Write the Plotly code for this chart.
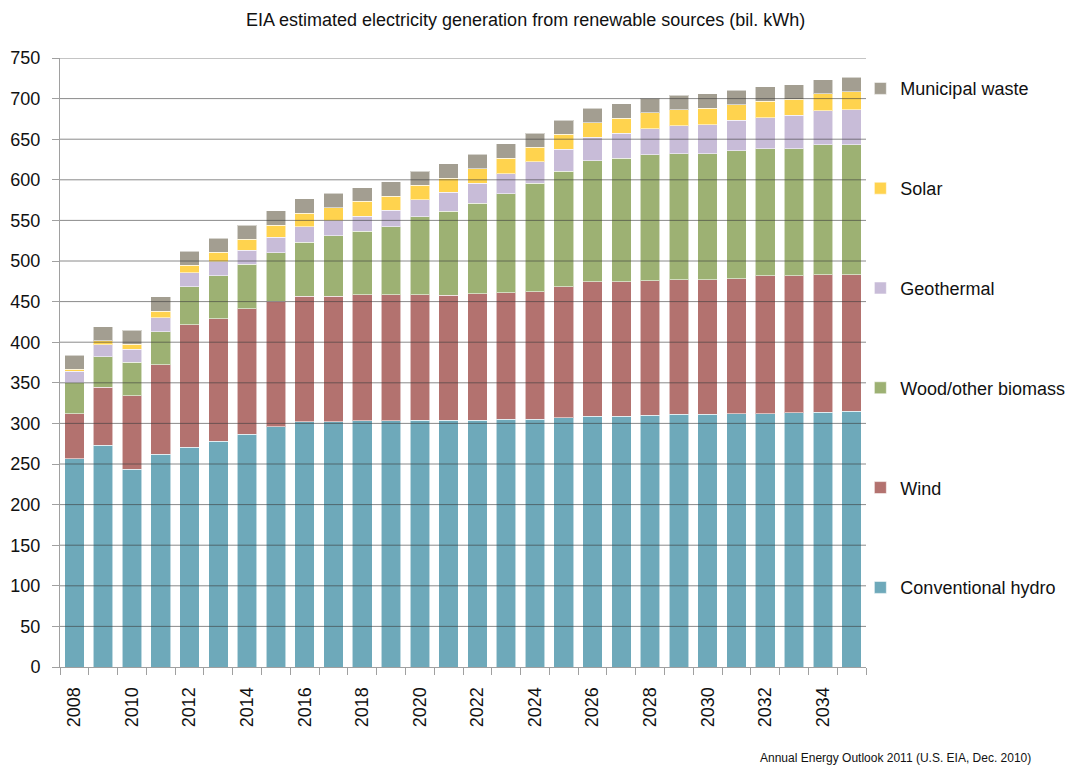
import plotly.graph_objects as go

years = list(range(2008, 2036))

hydro = [256.2, 273.4, 243.5, 262.3, 270.9, 278.3, 286.9, 295.6, 302, 302,
         303, 303, 304, 304, 304, 305, 305, 307, 309, 309,
         310, 311, 311, 312, 312, 313, 314, 315]
wind = [55.4, 71.4, 90.6, 110.0, 150.7, 150.6, 154.0, 154.9, 154.9, 154.9,
        155.5, 155.5, 154.5, 154.1, 155.7, 156.0, 157.2, 161.3, 165.5, 165.5,
        165.7, 166.0, 166.0, 166.2, 169.9, 168.9, 169.1, 168.1]
biomass = [38.5, 37.3, 41.1, 40.6, 46.7, 53.0, 55.0, 59.7, 66.5, 73.9,
           78.1, 83.7, 95.7, 103.1, 111.7, 121.9, 133.8, 142.5, 149.0, 152.3,
           155.3, 155.1, 155.1, 157.6, 156.4, 156.4, 159.8, 159.8]
geothermal = [14.4, 14.8, 16.1, 17.3, 17.3, 17.2, 17.6, 19.0, 18.8, 18.5,
              18.8, 20.6, 21.3, 23.4, 24.6, 24.6, 26.3, 27.1, 29.2, 30.5,
              32.0, 34.2, 35.4, 37.5, 38.2, 41.1, 42.2, 43.4]
solar = [2.5, 4.6, 6.1, 8.2, 8.9, 11.6, 13.2, 15.1, 16.5, 16.3,
         17.9, 17.2, 18.1, 17.6, 17.7, 19.3, 17.7, 18.1, 17.6, 18.8,
         19.3, 20.1, 20.5, 19.2, 20.1, 20.1, 20.6, 22.2]
waste = [17.2, 17.6, 17.6, 17.3, 17.8, 17.6, 17.3, 17.3, 17.7, 17.8,
         17.0, 17.3, 17.2, 17.3, 17.7, 17.3, 17.6, 17.6, 17.7, 17.8,
         18.1, 18.0, 17.7, 17.7, 17.7, 17.6, 17.3, 18.1]

series = [
    ("Conventional hydro", hydro, "#6ea9ba"),
    ("Wind", wind, "#b3726f"),
    ("Wood/other biomass", biomass, "#9db173"),
    ("Geothermal", geothermal, "#c8bcd8"),
    ("Solar", solar, "#ffd34e"),
    ("Municipal waste", waste, "#a39e91"),
]

y_ticks = list(range(0, 751, 50))
x_label_years = [y for y in years if y % 2 == 0]

FONT = "Liberation Sans, Arial, sans-serif"
TXT = "#111111"

fig = go.Figure()
n = len(series)
for i, (name, vals, color) in enumerate(series):
    fig.add_trace(go.Bar(
        x=years, y=vals, name=name, legendgroup=name, legendrank=n - i,
        marker=dict(color=color, line=dict(color="rgba(255,255,255,0.55)", width=1)),
        width=0.68,
    ))

# gridlines drawn above the bars, as in the reference
for v in y_ticks[1:]:
    fig.add_shape(type="line", xref="paper", yref="y", x0=0, x1=1, y0=v, y1=v,
                  line=dict(color="rgba(60,60,60,0.6)", width=1), layer="above")

fig.update_layout(
    barmode="stack",
    width=1071, height=769,
    margin=dict(l=60, r=205, t=58, b=102, autoexpand=False),
    paper_bgcolor="white", plot_bgcolor="white",
    font=dict(family=FONT, size=18, color=TXT),
    showlegend=True,
    legend=dict(
        x=0.993, y=0.980, xanchor="left", yanchor="top",
        traceorder="grouped", tracegroupgap=73.4,
        font=dict(family=FONT, size=18, color=TXT),
        itemwidth=30, bgcolor="rgba(0,0,0,0)",
    ),
    annotations=[
        dict(text="EIA estimated electricity generation from renewable sources (bil. kWh)",
             xref="paper", yref="paper", x=0.578, y=1.062, xanchor="center", yanchor="middle",
             showarrow=False, font=dict(family=FONT, size=18, color=TXT)),
        dict(text="Annual Energy Outlook 2011 (U.S. EIA, Dec. 2010)",
             xref="paper", yref="paper", x=1.207, y=-0.149, xanchor="right", yanchor="middle",
             showarrow=False, font=dict(family=FONT, size=12, color=TXT)),
    ],
)

fig.update_xaxes(
    range=[2007.5, 2035.5],
    tickmode="array", tickvals=x_label_years, ticktext=[str(y) for y in x_label_years],
    tickangle=-90, ticks="", showgrid=False, ticklabelstandoff=12,
    showline=True, linecolor="#a0a0a0", linewidth=1,
    minor=dict(tick0=2007.5, dtick=1, ticks="outside", ticklen=7, tickcolor="#a0a0a0", showgrid=False),
    tickfont=dict(family=FONT, size=18, color=TXT),
    zeroline=False, automargin=False,
)
fig.update_yaxes(
    range=[0, 750], tickmode="array", tickvals=y_ticks,
    showgrid=False, zeroline=False,
    showline=True, linecolor="#a0a0a0", linewidth=1,
    ticks="outside", ticklen=7, tickcolor="#a0a0a0", ticklabelstandoff=8,
    tickfont=dict(family=FONT, size=18, color=TXT), automargin=False,
)

fig.write_html("out.html", config={"displayModeBar": False},
               post_script="document.body.style.margin='0';")
